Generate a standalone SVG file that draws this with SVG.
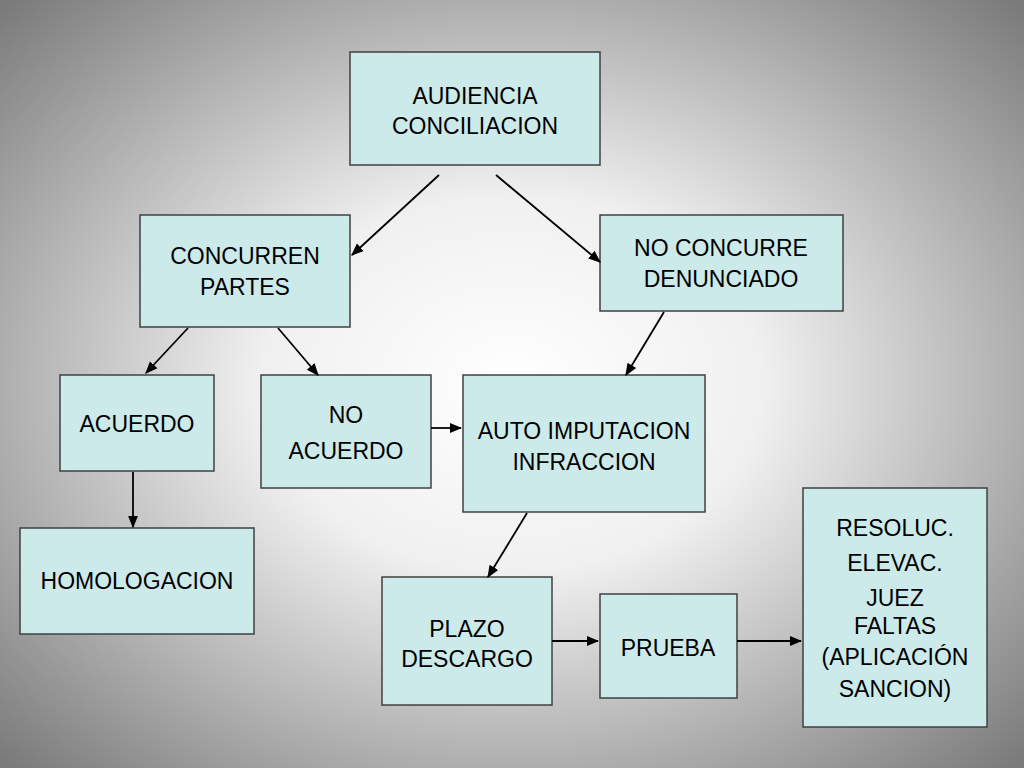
<svg xmlns="http://www.w3.org/2000/svg" width="1024" height="768" viewBox="0 0 1024 768">
<defs>
<radialGradient id="bg" cx="50%" cy="50%" r="70%">
<stop offset="0" stop-color="#ffffff"/><stop offset="0.35" stop-color="#f0f0f0"/><stop offset="1" stop-color="#7a7a7a"/>
</radialGradient>
<marker id="ah" viewBox="0 0 10 10" refX="9" refY="5" markerWidth="7" markerHeight="7" orient="auto"><path d="M0,1 L10,5 L0,9 z" fill="#000"/></marker>
</defs>
<style>
.b{fill:#cdeaea;stroke:#404040;stroke-width:1.5}
text{font-family:"Liberation Sans",Arial,sans-serif;font-size:23px;fill:#000;text-anchor:middle}
.c line{stroke:#000;stroke-width:1.8;marker-end:url(#ah)}
</style>
<rect width="1024" height="768" fill="url(#bg)"/>
<g id="n1"><rect class="b" x="350" y="52" width="250" height="113"/><text x="475" y="104">AUDIENCIA</text><text x="475" y="134">CONCILIACION</text></g>
<g id="n2"><rect class="b" x="140" y="215" width="210" height="112"/><text x="245" y="264">CONCURREN</text><text x="245" y="295">PARTES</text></g>
<g id="n3"><rect class="b" x="600" y="215" width="243" height="96"/><text x="721" y="256">NO CONCURRE</text><text x="721" y="287">DENUNCIADO</text></g>
<g id="n4"><rect class="b" x="60" y="375" width="154" height="96"/><text x="137" y="432">ACUERDO</text></g>
<g id="n5"><rect class="b" x="261" y="375" width="170" height="113"/><text x="346" y="423">NO</text><text x="346" y="459">ACUERDO</text></g>
<g id="n6"><rect class="b" x="463" y="375" width="242" height="137"/><text x="584" y="439">AUTO IMPUTACION</text><text x="584" y="470">INFRACCION</text></g>
<g id="n7"><rect class="b" x="20" y="528" width="234" height="106"/><text x="137" y="589">HOMOLOGACION</text></g>
<g id="n8"><rect class="b" x="382" y="577" width="170" height="128"/><text x="467" y="637">PLAZO</text><text x="467" y="667">DESCARGO</text></g>
<g id="n9"><rect class="b" x="600" y="594" width="137" height="104"/><text x="668" y="656">PRUEBA</text></g>
<g id="n10"><rect class="b" x="803" y="488" width="184" height="239"/>
<text x="895" y="536">RESOLUC.</text><text x="895" y="571">ELEVAC.</text><text x="895" y="606">JUEZ</text><text x="895" y="634">FALTAS</text><text x="895" y="665">(APLICACIÓN</text><text x="895" y="697">SANCION)</text></g>
<g class="c">
<line x1="439" y1="175" x2="352" y2="255"/>
<line x1="496" y1="175" x2="600" y2="262"/>
<line x1="188" y1="328" x2="146" y2="373"/>
<line x1="278" y1="328" x2="318" y2="375"/>
<line x1="664" y1="312" x2="626" y2="375"/>
<line x1="431" y1="428" x2="461" y2="428"/>
<line x1="133" y1="472" x2="133" y2="527"/>
<line x1="527" y1="513" x2="488" y2="577"/>
<line x1="552" y1="641" x2="598" y2="641"/>
<line x1="737" y1="641" x2="801" y2="641"/>
</g>
</svg>
